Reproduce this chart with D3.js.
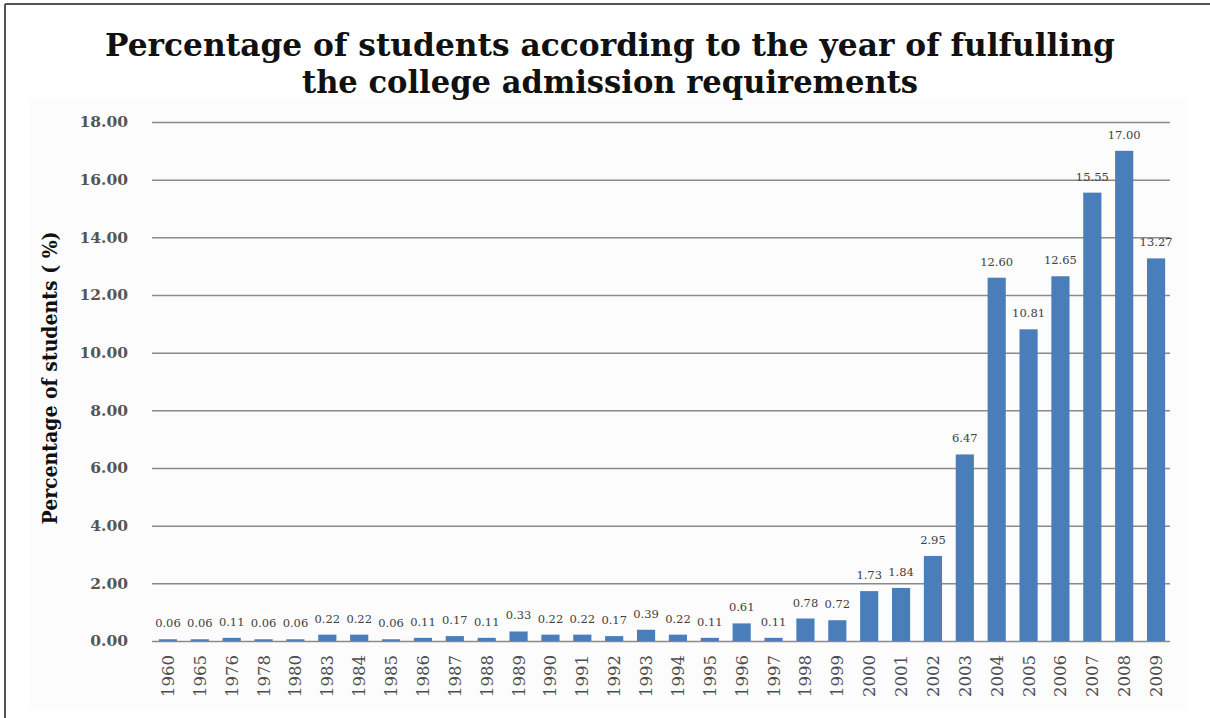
<!DOCTYPE html>
<html>
<head>
<meta charset="utf-8">
<script src="https://cdn.jsdelivr.net/npm/d3@7"></script>
<style>
  html, body { margin: 0; padding: 0; background: #fff; }
  svg { display: block; }
</style>
</head>
<body>
<svg id="chart" width="1210" height="718"></svg>
<script>
const years = ["1960","1965","1976","1978","1980","1983","1984","1985","1986","1987","1988","1989","1990","1991","1992","1993","1994","1995","1996","1997","1998","1999","2000","2001","2002","2003","2004","2005","2006","2007","2008","2009"];
const percentages = [0.06,0.06,0.11,0.06,0.06,0.22,0.22,0.06,0.11,0.17,0.11,0.33,0.22,0.22,0.17,0.39,0.22,0.11,0.61,0.11,0.78,0.72,1.73,1.84,2.95,6.47,12.60,10.81,12.65,15.55,17.00,13.27];
const yTicks = [0,2,4,6,8,10,12,14,16,18];
const titleLines = ["Percentage of students according to the year of fulfulling", "the college admission requirements"];
const yTitle = "Percentage of students ( %)";

const svg = d3.select("#chart");
const W = 1210, H = 718;
const pLeft = 152, pRight = 1172, pTop = 122, pBottom = 641;

// frame
svg.append("line").attr("x1", 5).attr("x2", 5).attr("y1", 4).attr("y2", H).attr("stroke", "#555").attr("stroke-width", 2);
svg.append("line").attr("x1", 5).attr("x2", W).attr("y1", 4).attr("y2", 4).attr("stroke", "#555").attr("stroke-width", 2);

// faint plot background
svg.append("rect").attr("x", 30).attr("y", 98).attr("width", 1155).attr("height", 612).attr("fill", "#fcfcfc");

const x = d3.scaleBand().domain(years).range([pLeft, pRight]).paddingInner(0.43).paddingOuter(0.215);
const y = d3.scaleLinear().domain([0, 18]).range([pBottom, pTop]);

// gridlines
const yAxis = d3.axisLeft(y).tickValues(yTicks).tickSize(-(pRight - pLeft - 2)).tickFormat(d => d.toFixed(2)).tickPadding(24);
const gy = svg.append("g").attr("transform", `translate(${pLeft},0)`).call(yAxis);
gy.select(".domain").remove();
gy.selectAll(".tick line").attr("stroke", "#8a8a8a").attr("stroke-width", 1.5);
gy.selectAll(".tick text").attr("font-family", "DejaVu Serif").attr("font-size", 15.5).attr("fill", "#555").attr("font-weight", "bold").attr("x", -24);

// bars
svg.append("g").selectAll("rect").data(years).join("rect")
  .attr("x", d => x(d))
  .attr("width", x.bandwidth())
  .attr("y", (d, i) => y(percentages[i]))
  .attr("height", (d, i) => y(0) - y(percentages[i]))
  .attr("fill", "#4a7ebb");

// data labels
svg.append("g").selectAll("text").data(years).join("text")
  .attr("x", d => x(d) + x.bandwidth() / 2)
  .attr("y", (d, i) => y(percentages[i]) - 12)
  .attr("text-anchor", "middle")
  .attr("font-family", "DejaVu Serif")
  .attr("font-size", 11.5)
  .attr("fill", "#404040")
  .text((d, i) => percentages[i].toFixed(2));

// x axis labels
const xAxis = d3.axisBottom(x).tickSize(0).tickPadding(0);
const gx = svg.append("g").attr("transform", `translate(0,${pBottom})`).call(xAxis);
gx.select(".domain").remove();
gx.selectAll(".tick text")
  .attr("font-family", "DejaVu Serif")
  .attr("font-size", 16.5)
  .attr("fill", "#4d4d4d")
  .attr("text-anchor", "end")
  .attr("transform", "translate(0,14) rotate(-90)")
  .attr("x", 0).attr("y", 0).attr("dy", "0.36em");

// title
svg.append("text").attr("x", 610).attr("y", 56).attr("text-anchor", "middle")
  .attr("font-family", "DejaVu Serif").attr("font-weight", "bold").attr("font-size", 31).attr("fill", "#111")
  .attr("textLength", 1010).attr("lengthAdjust", "spacingAndGlyphs").text(titleLines[0]);
svg.append("text").attr("x", 610).attr("y", 93).attr("text-anchor", "middle")
  .attr("font-family", "DejaVu Serif").attr("font-weight", "bold").attr("font-size", 31).attr("fill", "#111")
  .attr("textLength", 616).attr("lengthAdjust", "spacingAndGlyphs").text(titleLines[1]);

// y title
svg.append("text").attr("transform", "translate(57,378) rotate(-90)").attr("text-anchor", "middle")
  .attr("font-family", "DejaVu Serif").attr("font-weight", "bold").attr("font-size", 21).attr("fill", "#111")
  .attr("textLength", 293).attr("lengthAdjust", "spacingAndGlyphs").text(yTitle);
</script>
</body>
</html>
